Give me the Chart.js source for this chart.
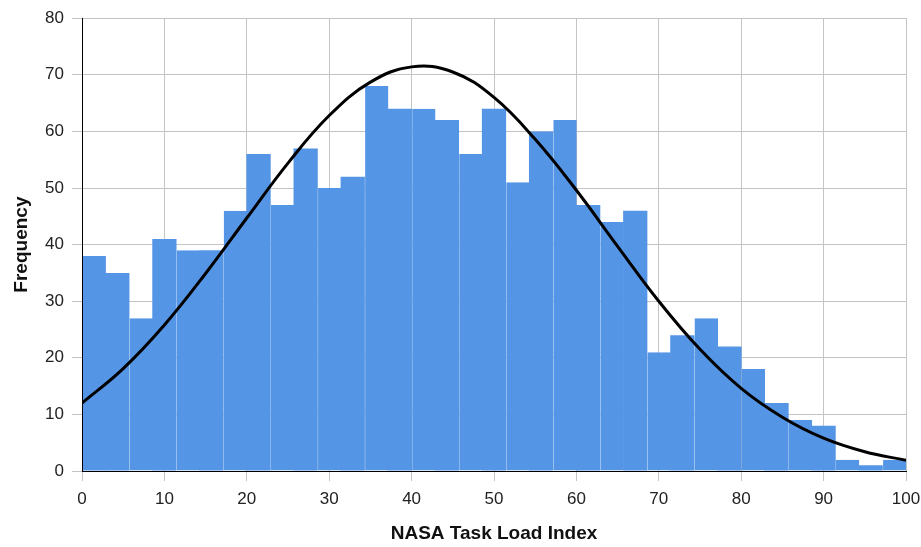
<!DOCTYPE html>
<html>
<head>
<meta charset="utf-8">
<script src="https://cdn.jsdelivr.net/npm/chart.js@4"></script>
<style>
  html, body { margin: 0; padding: 0; background: #fff; }
  #wrap { width: 921px; height: 547px; }
</style>
</head>
<body>
<div id="wrap"><canvas id="grafico"></canvas></div>
<script>
// histogram counts, 35 bins from 0 to 100
const frecuencias = [38, 35, 27, 41, 39, 39, 46, 56, 47, 57, 50, 52, 68, 64, 64, 62, 56, 64, 51, 60,
  62, 47, 44, 46, 21, 24, 27, 22, 18, 12, 9, 8, 2, 1, 2];
const anchoBin = 100 / frecuencias.length;

// fitted curve
const curvaX = [0, 5, 10, 15, 20, 25, 30, 35, 40, 45, 50, 55, 60, 65, 70, 75, 80, 85, 90, 95, 100];
const curvaY = [12, 18.1, 25.8, 34.9, 44.7, 54.4, 62.8, 68.7, 71.4, 70.5, 66.0, 58.6, 49.6, 39.7, 30.0,
  21.5, 14.6, 9.5, 5.8, 3.4, 1.9];

const ticksX = [0, 10, 20, 30, 40, 50, 60, 70, 80, 90, 100];
const ticksY = [0, 10, 20, 30, 40, 50, 60, 70, 80];

const barras = frecuencias.map((v, i) => ({ x: (i + 0.5) * anchoBin, y: v }));
const curva = curvaX.map((x, i) => ({ x: x, y: curvaY[i] }));

const fuente = "'Liberation Sans', Arial, sans-serif";

// black axis lines on top of the bars
const ejes = {
  id: "ejes",
  afterDatasetsDraw(chart) {
    const { ctx, chartArea: a } = chart;
    ctx.save();
    ctx.strokeStyle = "#000";
    ctx.lineWidth = 1;
    ctx.beginPath();
    ctx.moveTo(a.left + 0.5, a.top);
    ctx.lineTo(a.left + 0.5, a.bottom + 0.5);
    ctx.lineTo(a.right, a.bottom + 0.5);
    ctx.stroke();
    ctx.restore();
  },
};

new Chart(document.getElementById("grafico"), {
  type: "bar",
  data: {
    datasets: [
      {
        type: "line",
        data: curva,
        borderColor: "#000",
        borderWidth: 3,
        pointRadius: 0,
        tension: 0.4,
        fill: false,
        order: 0,
      },
      {
        data: barras,
        backgroundColor: "#5595e5",
        borderColor: "rgba(0,0,0,0)",
        borderWidth: (ctx) => (ctx.dataIndex % 2 === 0 && ctx.dataIndex > 0 ? { left: 1, right: 0, top: 0, bottom: 0 } : 0),
        borderSkipped: false,
        barPercentage: 1.03,
        categoryPercentage: 1,
        order: 1,
      },
    ],
  },
  options: {
    responsive: true,
    maintainAspectRatio: false,
    animation: false,
    layout: { padding: { top: 16, right: 15, left: 0, bottom: 0 } },
    plugins: { legend: { display: false }, tooltip: { enabled: false } },
    scales: {
      x: {
        type: "linear",
        min: 0,
        max: 100,
        offset: false,
        afterBuildTicks: (s) => { s.ticks = ticksX.map((v) => ({ value: v })); },
        afterFit: (s) => { s.height = 76; s.paddingLeft = 0; s.paddingRight = 0; },
        grid: { color: "#c4c4c4", tickColor: "#c4c4c4", tickLength: 10, offset: false },
        border: { color: "#000", width: 1 },
        ticks: { color: "#222", font: { family: fuente, size: 17 }, padding: 8, maxRotation: 0 },
        title: {
          display: true,
          text: "NASA Task Load Index",
          color: "#111",
          font: { family: fuente, size: 19, weight: "bold" },
          padding: { top: 10, bottom: 2 },
        },
      },
      y: {
        min: 0,
        max: 80,
        afterBuildTicks: (s) => { s.ticks = ticksY.map((v) => ({ value: v })); },
        afterFit: (s) => { s.width = 82; },
        grid: { color: "#c4c4c4", tickColor: "#c4c4c4", tickLength: 10 },
        border: { color: "#000", width: 1 },
        ticks: { color: "#222", font: { family: fuente, size: 17 }, padding: 8 },
        title: {
          display: true,
          text: "Frequency",
          color: "#111",
          font: { family: fuente, size: 19, weight: "bold" },
          padding: { bottom: 0, top: 10 },
        },
      },
    },
  },
  plugins: [ejes],
});
</script>
</body>
</html>
